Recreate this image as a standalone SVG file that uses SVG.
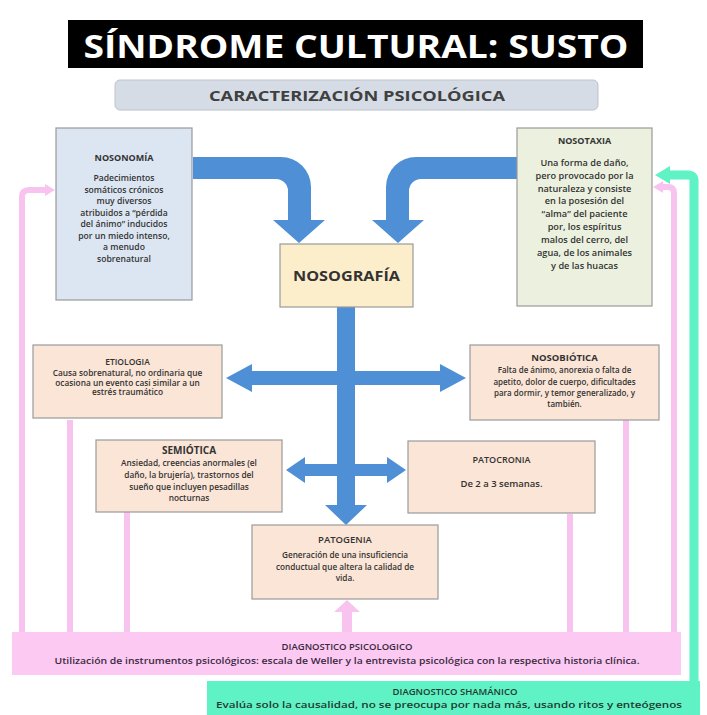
<svg xmlns="http://www.w3.org/2000/svg" width="707" height="715" viewBox="0 0 707 715">
<style>
.t{font-family:"Open Sans","Liberation Sans",sans-serif;font-weight:600;fill:#333333;text-anchor:middle}
.h{font-weight:700}
.box{stroke:#9a9a9a;stroke-width:1.2}
.peach{fill:#fbe5d6}
.blue{fill:#4f8fd6}
.pink{fill:none;stroke:#f8c4ef;stroke-width:6;stroke-linejoin:round}
</style>
<rect width="707" height="715" fill="#ffffff"/>
<g id="title">
<rect x="68" y="20" width="575" height="48" fill="#000"/>
<text x="356" y="58" class="t h" style="fill:#fff;font-size:33px" textLength="545" lengthAdjust="spacingAndGlyphs">SÍNDROME CULTURAL: SUSTO</text>
</g>
<g id="subtitle">
<rect x="115" y="80" width="483" height="30" rx="5" fill="#d6dce5" stroke="#bcc3cc"/>
<text x="357" y="101" class="t h" style="font-size:15px;fill:#404040" textLength="296" lengthAdjust="spacingAndGlyphs">CARACTERIZACIÓN PSICOLÓGICA</text>
</g>
<g id="connectors">
<path class="blue" d="M193,157 H281 A30,30 0 0 1 311,187 V220 H325 L299,243 L273,220 H288 V191 A12,12 0 0 0 276,179 H193 Z"/>
<path class="blue" d="M517,157 H416 A30,30 0 0 0 386,187 V220 H372 L398,243 L424,220 H409 V191 A12,12 0 0 1 421,179 H517 Z"/>
<path class="blue" d="M337,307 H355 V505 H367 L346,525 L325,505 H337 Z"/>
<path class="blue" d="M226,378 L252,364 V371 H440 V364 L466,378 L440,392 V385 H252 V392 Z"/>
<path class="blue" d="M286,470 L305,457 V464 H387 V457 L406,470 L387,483 V476 H305 V483 Z"/>
<path class="pink" d="M22,634 V197 Q22,190 29,190 H46"/>
<path d="M55,190 L45,184 V196 Z" fill="#f8c4ef"/>
<path class="pink" d="M70,634 V420"/>
<path class="pink" d="M127,634 V512"/>
<path class="pink" d="M570,634 V514"/>
<path class="pink" d="M626,634 V420"/>
<path class="pink" d="M674,634 V193 Q674,187 668,187 H662"/>
<path d="M653,187 L663,181 V193 Z" fill="#f8c4ef"/>
<path d="M342,632 V612 H334 L347,600 L360,612 H352 V632 Z" fill="#f8c4ef"/>
<path d="M694,700 V181 Q694,175 688,175 H668" fill="none" stroke="#5ff2c4" stroke-width="9"/>
<path d="M655,175 L670,166 V184 Z" fill="#5ff2c4"/>
</g>
<g id="nosonomia">
<rect x="56" y="128" width="136" height="172" fill="#dce6f2" class="box"/>
<text class="t h" x="124" y="161" style="font-size:9px">NOSONOMÍA</text>
<g class="t" style="font-size:8.6px">
<text x="124" y="181">Padecimientos</text>
<text x="124" y="192.5">somáticos crónicos</text>
<text x="124" y="204">muy diversos</text>
<text x="124" y="215.5">atribuidos a “pérdida</text>
<text x="124" y="227">del ánimo” inducidos</text>
<text x="124" y="238.5">por un miedo intenso,</text>
<text x="124" y="250">a menudo</text>
<text x="124" y="261.5">sobrenatural</text>
</g>
</g>
<g id="nosotaxia">
<rect x="517" y="128" width="135" height="178" fill="#ebf1de" class="box"/>
<text class="t h" x="584.5" y="144" style="font-size:9px">NOSOTAXIA</text>
<g class="t" style="font-size:9.2px">
<text x="584.5" y="166">Una forma de daño,</text>
<text x="584.5" y="179">pero provocado por la</text>
<text x="584.5" y="191.5">naturaleza y consiste</text>
<text x="584.5" y="204">en la posesión del</text>
<text x="584.5" y="217">“alma” del paciente</text>
<text x="584.5" y="230">por, los espíritus</text>
<text x="584.5" y="243">malos del cerro, del</text>
<text x="584.5" y="256">agua, de los animales</text>
<text x="584.5" y="268.5">y de las huacas</text>
</g>
</g>
<g id="nosografia">
<rect x="280" y="244" width="133" height="63" fill="#fdeecb" class="box"/>
<text class="t h" x="346.5" y="281" style="font-size:13.5px" textLength="107" lengthAdjust="spacingAndGlyphs">NOSOGRAFÍA</text>
</g>
<g id="etiologia">
<rect x="33" y="345" width="189" height="73" class="box peach"/>
<text class="t" x="127.5" y="365" style="font-size:8.5px">ETIOLOGIA</text>
<g class="t" style="font-size:8.3px">
<text x="127.5" y="376">Causa sobrenatural, no ordinaria que</text>
<text x="127.5" y="385.5">ocasiona un evento casi similar a un</text>
<text x="127.5" y="395">estrés traumático</text>
</g>
</g>
<g id="nosobiotica">
<rect x="470" y="345" width="189" height="75" class="box peach"/>
<text class="t h" x="564.5" y="361" style="font-size:9.5px">NOSOBIÓTICA</text>
<g class="t" style="font-size:8px">
<text x="564.5" y="373">Falta de ánimo, anorexia o falta de</text>
<text x="564.5" y="384.5">apetito, dolor de cuerpo, dificultades</text>
<text x="564.5" y="395.5">para dormir, y temor generalizado, y</text>
<text x="564.5" y="406.5">también.</text>
</g>
</g>
<g id="semiotica">
<rect x="96" y="440" width="186" height="72" class="box peach"/>
<text class="t h" x="189" y="454" style="font-size:10px">SEMIÓTICA</text>
<g class="t" style="font-size:8.3px">
<text x="189" y="466">Ansiedad, creencias anormales (el</text>
<text x="189" y="478">daño, la brujería), trastornos del</text>
<text x="189" y="489.5">sueño que incluyen pesadillas</text>
<text x="189" y="500.5">nocturnas</text>
</g>
</g>
<g id="patocronia">
<rect x="408" y="441" width="187" height="72" class="box peach"/>
<text class="t" x="501.5" y="463" style="font-size:9px">PATOCRONIA</text>
<text class="t" x="501.5" y="487" style="font-size:9.5px">De 2 a 3 semanas.</text>
</g>
<g id="patogenia">
<rect x="252" y="525" width="186" height="74" class="box peach"/>
<text class="t" x="345" y="543" style="font-size:9.5px">PATOGENIA</text>
<g class="t" style="font-size:8.2px">
<text x="345" y="558">Generación de una insuficiencia</text>
<text x="345" y="570">conductual que altera la calidad de</text>
<text x="345" y="581">vida.</text>
</g>
</g>
<g id="diagnostico-psicologico">
<rect x="12" y="632" width="669" height="43" fill="#fbc9f2"/>
<text class="t" x="347" y="650" style="font-size:9.5px;fill:#3a2a40">DIAGNOSTICO PSICOLOGICO</text>
<text class="t" x="347" y="664" style="font-size:8.3px;fill:#3a2a40" textLength="585" lengthAdjust="spacingAndGlyphs">Utilización de instrumentos psicológicos: escala de Weller y la entrevista psicológica con la respectiva historia clínica.</text>
</g>
<g id="diagnostico-shamanico">
<rect x="207" y="681" width="493" height="34" fill="#5ff2c4"/>
<text class="t" x="455" y="695" style="font-size:9.5px;fill:#1f3a30">DIAGNOSTICO SHAMÁNICO</text>
<text class="t" x="449" y="708" style="font-size:8.8px;fill:#1f3a30" textLength="466" lengthAdjust="spacingAndGlyphs">Evalúa solo la causalidad, no se preocupa por nada más, usando ritos y enteógenos</text>
</g>
</svg>
